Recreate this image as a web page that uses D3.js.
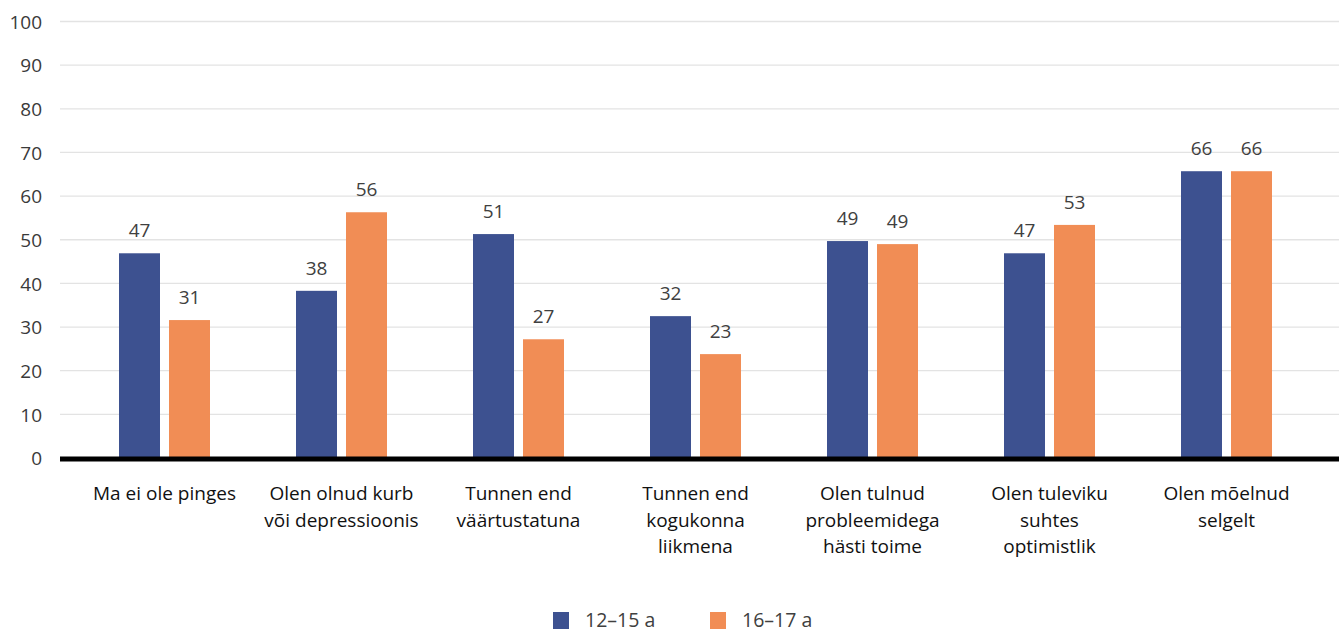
<!DOCTYPE html>
<html>
<head>
<meta charset="utf-8">
<script src="https://cdn.jsdelivr.net/npm/d3@7"></script>
<style>
  body { margin: 0; background: #fff; }
  svg { display: block; font-family: "Open Sans", "Noto Sans", sans-serif; }
</style>
</head>
<body>
<div id="container"></div>
<script>
// Andmed
const categories = [
  ["Ma ei ole pinges"],
  ["Olen olnud kurb", "või depressioonis"],
  ["Tunnen end", "väärtustatuna"],
  ["Tunnen end", "kogukonna", "liikmena"],
  ["Olen tulnud", "probleemidega", "hästi toime"],
  ["Olen tuleviku", "suhtes", "optimistlik"],
  ["Olen mõelnud", "selgelt"]
];
const seriesNames = ["12–15 a", "16–17 a"];
const values1215 = [46.9, 38.3, 51.3, 32.5, 49.7, 46.9, 65.7];
const values1617 = [31.6, 56.3, 27.2, 23.8, 49.0, 53.4, 65.7];
const labels1215 = ["47", "38", "51", "32", "49", "47", "66"];
const labels1617 = ["31", "56", "27", "23", "49", "53", "66"];
const yTicks = [0, 10, 20, 30, 40, 50, 60, 70, 80, 90, 100];
const colors = ["#3d5190", "#f18d55"];

const width = 1339;
const height = 632;

const svg = d3.create("svg")
    .attr("width", width)
    .attr("height", height);

// Skaalad
const y = d3.scaleLinear()
    .domain([0, 100])
    .range([458, 21.5]);

const x0 = d3.scaleBand()
    .domain(d3.range(categories.length))
    .range([76, 1315])
    .padding(0);

const x1 = d3.scaleBand()
    .domain([0, 1])
    .range([x0.bandwidth() / 2 - 45.5, x0.bandwidth() / 2 + 45.5])
    .paddingInner(0.18);

// Ruudustik
svg.append("g")
    .selectAll("line")
    .data(yTicks.filter(d => d > 0))
    .join("line")
    .attr("x1", 60)
    .attr("x2", width)
    .attr("y1", d => y(d))
    .attr("y2", d => y(d))
    .attr("stroke", "#e3e3e3")
    .attr("stroke-width", 1.3);

// Y-telg
const yAxis = svg.append("g")
    .attr("transform", "translate(42,0)")
    .call(d3.axisLeft(y).tickValues(yTicks).tickSize(0).tickPadding(0));
yAxis.select(".domain").remove();
yAxis.selectAll("text")
    .attr("font-size", 19)
    .attr("font-family", "Open Sans, Noto Sans, sans-serif")
    .attr("fill", "#3a3a3a")
    .attr("dy", "0.36em");

// Tulbad
const series = [values1215, values1617];
const labels = [labels1215, labels1617];
const groups = svg.append("g")
    .selectAll("g")
    .data(categories)
    .join("g")
    .attr("transform", (d, i) => `translate(${x0(i)},0)`);

groups.selectAll("rect")
    .data((d, i) => series.map((s, k) => ({ k, v: s[i] })))
    .join("rect")
    .attr("x", d => x1(d.k))
    .attr("width", x1.bandwidth())
    .attr("y", d => y(d.v))
    .attr("height", d => y(0) - y(d.v))
    .attr("fill", d => colors[d.k]);

groups.selectAll("text.val")
    .data((d, i) => series.map((s, k) => ({ k, v: s[i], t: labels[k][i] })))
    .join("text")
    .attr("class", "val")
    .attr("x", d => x1(d.k) + x1.bandwidth() / 2)
    .attr("y", d => y(d.v) - 16)
    .attr("text-anchor", "middle")
    .attr("font-size", 19)
    .attr("fill", "#404040")
    .text(d => d.t);

// Nulljoon
svg.append("line")
    .attr("x1", 60)
    .attr("x2", width)
    .attr("y1", y(0) + 1)
    .attr("y2", y(0) + 1)
    .attr("stroke", "#000")
    .attr("stroke-width", 5);

// Kategooriate nimed
const catText = svg.append("g")
    .selectAll("text")
    .data(categories)
    .join("text")
    .attr("x", (d, i) => x0(i) + x0.bandwidth() / 2)
    .attr("y", 500)
    .attr("text-anchor", "middle")
    .attr("font-size", 19)
    .attr("font-weight", 500)
    .attr("fill", "#111");
catText.selectAll("tspan")
    .data(d => d)
    .join("tspan")
    .attr("x", function () { return d3.select(this.parentNode).attr("x"); })
    .attr("dy", (d, i) => i === 0 ? 0 : 26.5)
    .text(d => d);

// Legend
const legendX = [553, 710];
const legend = svg.append("g")
    .selectAll("g")
    .data(seriesNames)
    .join("g")
    .attr("transform", (d, i) => `translate(${legendX[i]},612)`);
legend.append("rect")
    .attr("width", 16)
    .attr("height", 17)
    .attr("fill", (d, i) => colors[i]);
legend.append("text")
    .attr("x", 32)
    .attr("y", 15)
    .attr("font-size", 19.5)
    .attr("fill", "#404040")
    .text(d => d);

container.append(svg.node());
</script>
</body>
</html>
